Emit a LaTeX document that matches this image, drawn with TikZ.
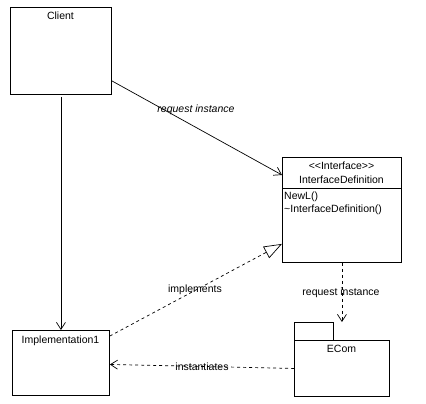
\documentclass[tikz,border=0pt]{standalone}
\usepackage{fontspec}
\setmainfont[Ligatures=NoCommon]{Liberation Sans}
\usetikzlibrary{arrows.meta}
\tikzset{
  box/.style={draw, line width=0.9pt, inner sep=0pt, anchor=north west},
  txt/.style={inner sep=0pt, font=\fontsize{10.5}{12}\selectfont},
  itxt/.style={txt, font=\fontsize{10.5}{12}\selectfont\itshape},
  conn/.style={line width=0.7pt},
  dashconn/.style={conn, dash pattern=on 3pt off 3pt},
  openarrow/.style={-{Straight Barb[length=7pt,width=9pt,line width=0.7pt]}},
  realize/.style={-{Triangle[open,length=18pt,width=13pt,line width=0.7pt]}},
}
\begin{document}
\begin{tikzpicture}[x=1pt,y=-1pt]
\useasboundingbox[fill=white] (0,0) rectangle (426,404);
% Client
\node[box, minimum width=101pt, minimum height=87pt] (client) at (10,7) {};
\node[txt] (clientlbl) at (60.5,16) {Client};
% Implementation1
\node[box, minimum width=97pt, minimum height=65pt] (impl) at (12,330) {};
\node[txt] (impllbl) at (60.5,341) {Implementation1};
% InterfaceDefinition
\node[box, minimum width=119pt, minimum height=105pt] (iface) at (282,157) {};
\draw[line width=0.9pt] (iface.west |- 0,188) coordinate (divl) -- (iface.east |- 0,188) coordinate (divr);
\node[txt] (stereo) at (341.5,166) {{<}{<}Interface{>}{>}};
\node[txt] (ifname) at (341.5,180) {InterfaceDefinition};
\node[txt, anchor=west] (m1) at (284,197) {NewL()};
\node[txt, anchor=west] (m2) at (284,210) {\textasciitilde InterfaceDefinition()};
% ECom package
\node[box, minimum width=39pt, minimum height=18pt] (tab) at (294,322) {};
\node[box, minimum width=95pt, minimum height=56pt] (ecom) at (294,340) {};
\node[txt] (ecomlbl) at (341.5,349) {ECom};
% connectors
\draw[conn, openarrow] ([yshift=14pt]client.south east) -- ([yshift=-18pt]iface.north west);
\node[itxt] (l1) at (196,110) {request instance};
\draw[conn, openarrow] ([yshift=-2pt]client.south) -- (impl.north);
\draw[dashconn, realize] ([yshift=-6pt]impl.north east) -- ([yshift=19pt]iface.south west);
\node[txt] (l2) at (195,290) {implements};
\coordinate (ecomtop) at ([yshift=18pt]ecom.north);
\draw[dashconn, openarrow] (iface.south) -- (ecomtop);
\node[txt] (l3) at (341,293) {request instance};
\draw[dashconn, openarrow] (ecom.west) -- ([yshift=-1.5pt]impl.east);
\node[txt] (l4) at (202,367) {instantiates};
\end{tikzpicture}
\end{document}
